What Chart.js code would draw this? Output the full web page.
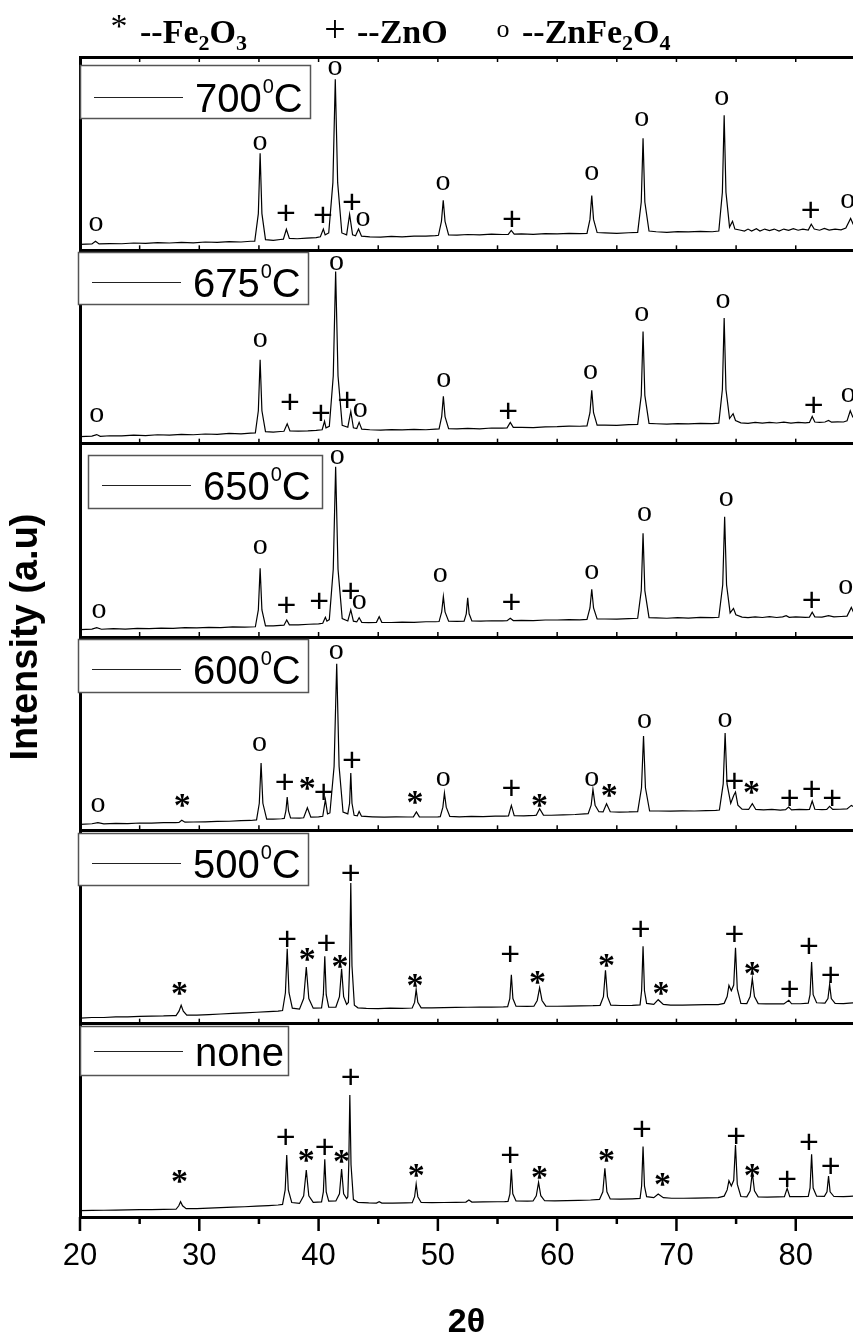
<!DOCTYPE html>
<html><head><meta charset="utf-8">
<script src="https://cdn.jsdelivr.net/npm/chart.js"></script>
<style>html,body{margin:0;padding:0;background:#fff}canvas{display:block}</style>
</head><body>
<canvas id="c" width="853" height="1341"></canvas>
<script>
// ---- data ----
const sampleLabels = ['700','675','650','600','500','none'];
const sampleIsTemp = [true,true,true,true,true,false];
const xTickValues = [20,30,40,50,60,70,80];
const xMinorTicks = [25,35,45,55,65,75,85];
const panelEdges = [0,100,200,300,400,500,600];

const s700 = [[20,3.1],[21,3.3],[21.3,4.7],[21.6,3.3],[22.5,3.5],[23.5,3.4],[24.5,3.8],[25.5,3.6],[26.5,4.0],[27.5,3.8],[28.5,4.1],[29.5,3.9],[30.5,4.3],[31.5,4.1],[32.5,4.5],[33.5,4.3],[34.3,4.7],[34.65,4.8],[34.95,19],[35.1,50.2],[35.25,19],[35.55,5.5],[36.2,5.2],[36.8,5.6],[37.05,5.8],[37.3,10.9],[37.55,6.2],[38.2,6.0],[39.0,6.3],[39.8,6.6],[40.15,7.0],[40.4,11],[40.55,8],[40.85,9],[41.2,35],[41.4,88.5],[41.6,35],[41.95,9],[42.35,8],[42.6,18.6],[42.85,8],[43.1,7.5],[43.35,11],[43.6,7.3],[44.3,7.0],[45.2,6.8],[46.1,7.2],[47.0,7.0],[48.0,7.4],[49.0,7.3],[49.8,7.6],[50.05,7.8],[50.3,15],[50.45,25.9],[50.6,15],[50.9,8],[51.6,7.9],[52.5,8.2],[53.5,8.0],[54.5,8.4],[55.4,8.2],[55.9,8.3],[56.15,10.3],[56.4,8.4],[57.0,8.5],[58.0,8.3],[59.0,8.6],[60.0,8.5],[61.0,8.8],[61.9,8.6],[62.5,8.8],[62.75,16],[62.9,28.4],[63.05,16],[63.35,9.2],[64.0,9.0],[65.0,8.8],[66.0,9.1],[66.75,9.3],[67.05,25],[67.2,58],[67.35,25],[67.7,10],[68.3,9.6],[69.2,9.3],[70.1,9.7],[71.0,9.5],[72.0,9.8],[73.0,9.6],[73.55,10],[73.85,30],[74.0,69.8],[74.15,30],[74.45,12],[74.7,15],[74.9,11],[75.3,10.5],[75.7,10],[76.0,11],[76.3,10],[76.7,11.2],[77.0,10],[77.4,11],[77.8,10.2],[78.2,11],[78.6,10],[79.0,11],[79.4,10.3],[79.8,11.2],[80.2,10.4],[80.6,11],[81.05,10.5],[81.3,13.5],[81.55,11],[82.0,10.4],[82.4,11.3],[82.8,10.5],[83.3,11],[83.8,10.6],[84.2,11.5],[84.6,16.5],[84.85,13],[85,12.5]];

const s675 = [[20,3.6],[21,3.9],[21.4,4.7],[21.7,3.8],[22.5,4.1],[23.5,4.0],[24.5,4.4],[25.5,4.2],[26.5,4.6],[27.5,4.4],[28.5,4.8],[29.5,4.6],[30.5,5.0],[31.5,4.8],[32.5,5.3],[33.5,5.1],[34.3,5.5],[34.7,5.6],[34.95,17],[35.1,43.4],[35.25,17],[35.55,6.2],[36.2,6.0],[36.8,6.3],[37.1,6.4],[37.37,10.3],[37.6,6.6],[38.3,6.5],[39.1,6.6],[39.8,6.9],[40.3,7.2],[40.5,11.6],[40.62,8.2],[40.9,9],[41.23,35],[41.43,89],[41.63,35],[41.98,9.5],[42.45,8.5],[42.7,16.7],[42.92,8.2],[43.2,7.8],[43.4,11],[43.62,7.5],[44.3,7.2],[45.2,7.0],[46.1,7.3],[47.0,7.1],[48.0,7.4],[49.0,7.2],[49.8,7.5],[50.1,7.6],[50.32,14],[50.46,24.5],[50.6,14],[50.9,7.8],[51.6,7.6],[52.5,7.9],[53.5,7.7],[54.5,8.1],[55.4,8.0],[55.8,8.2],[56.07,11],[56.32,8.4],[57.0,8.4],[58.0,8.3],[59.0,8.7],[60.0,8.8],[61.0,9.1],[61.9,9.0],[62.5,9.2],[62.75,16],[62.9,27.6],[63.05,16],[63.35,9.6],[64.0,9.6],[65.0,9.5],[66.0,9.8],[66.75,10],[67.05,25],[67.2,58],[67.35,25],[67.7,10.5],[68.3,10.3],[69.2,10.1],[70.1,10.4],[71.0,10.2],[72.0,10.5],[73.0,10.4],[73.55,10.6],[73.85,28],[74.0,65],[74.15,28],[74.45,13],[74.75,15.5],[74.95,12],[75.4,10.8],[76.0,10.5],[76.6,11],[77.2,10.6],[77.8,11],[78.4,10.7],[79.0,11.1],[79.6,10.6],[80.2,11],[80.8,10.8],[81.15,11],[81.38,14.1],[81.6,11.2],[82.0,11],[82.45,11.2],[82.75,12],[83.0,11.1],[83.5,11.3],[84.0,11.2],[84.3,11.8],[84.57,17],[84.8,13.5],[85,13]];

const s650 = [[20,3.8],[21,4.1],[21.4,4.8],[21.8,4.0],[22.8,4.3],[23.8,4.1],[24.8,4.5],[25.8,4.3],[26.8,4.6],[27.8,4.5],[28.8,4.8],[29.8,4.7],[30.8,5.0],[31.8,4.9],[32.8,5.2],[33.8,5.1],[34.7,5.3],[34.95,14],[35.1,35.5],[35.25,14],[35.55,5.8],[36.2,5.8],[36.8,6.0],[37.1,6.1],[37.33,8.8],[37.55,6.3],[38.3,6.3],[39.2,6.6],[40.0,6.8],[40.35,7.1],[40.57,10.2],[40.7,8.2],[40.9,9],[41.23,35],[41.43,88.1],[41.63,35],[41.98,9.5],[42.45,8.3],[42.7,14],[42.92,8.2],[43.2,7.8],[43.4,10],[43.62,7.6],[44.2,7.4],[44.85,7.6],[45.08,10.5],[45.3,7.6],[46.1,7.5],[47.0,7.7],[48.0,7.6],[49.0,7.9],[49.8,7.9],[50.1,8],[50.32,13],[50.46,20.9],[50.6,13],[50.9,8.2],[51.6,8.1],[52.2,8.2],[52.38,12],[52.5,20.3],[52.62,12],[52.85,8.3],[53.6,8.2],[54.5,8.4],[55.4,8.3],[55.8,8.4],[56.07,9.7],[56.32,8.5],[57.0,8.6],[58.0,8.5],[59.0,8.8],[60.0,8.8],[61.0,9.0],[61.9,8.9],[62.5,9.1],[62.75,15],[62.9,24.7],[63.05,15],[63.35,9.4],[64.0,9.3],[65.0,9.2],[66.0,9.5],[66.75,9.7],[67.05,24],[67.2,53.6],[67.35,24],[67.7,10],[68.3,9.9],[69.2,9.7],[70.1,10],[71.0,9.8],[72.0,10.1],[73.0,10],[73.55,10.2],[73.88,27],[74.04,62.2],[74.2,27],[74.5,12.5],[74.78,14.8],[74.98,11.5],[75.5,10.3],[76.0,10.0],[76.6,10.4],[77.2,10.1],[77.8,10.5],[78.4,10.1],[78.9,10.4],[79.2,11],[79.45,10.2],[80.0,10.4],[80.8,10.2],[81.15,10.3],[81.38,12.8],[81.6,10.4],[82.2,10.3],[82.75,11],[83.2,10.4],[83.8,10.6],[84.3,10.8],[84.66,15.3],[84.9,12],[85,11.8]];

const s600 = [[20,3.1],[21,3.4],[21.5,4.0],[22,3.3],[23,3.6],[24,3.5],[25,3.8],[26,3.7],[27,4.0],[28,4.0],[28.3,4.1],[28.53,5.2],[28.8,4.2],[29.5,4.3],[30.5,4.4],[31.5,4.6],[32.5,4.7],[33.5,5.0],[34.3,5.1],[34.8,5.4],[35.03,14],[35.18,34.8],[35.33,14],[35.65,5.8],[36.2,5.8],[36.9,6.0],[37.12,6.2],[37.26,10],[37.37,17.2],[37.48,10],[37.65,6.4],[38.4,6.3],[38.75,6.5],[39.06,11.7],[39.35,6.8],[40.0,7.0],[40.35,7.3],[40.57,15.9],[40.75,8.5],[40.95,9],[41.3,33],[41.52,86.2],[41.72,33],[42.05,9.5],[42.45,8.5],[42.6,14],[42.7,29.7],[42.8,14],[42.98,7.8],[43.25,7.5],[43.4,9.8],[43.6,7.3],[44.5,7.0],[45.5,6.8],[46.5,7.0],[47.5,6.9],[47.95,7.0],[48.2,9.5],[48.45,7.0],[49.2,6.9],[50.0,7.0],[50.2,7.1],[50.42,12],[50.55,19.3],[50.7,12],[51.0,7.2],[51.8,7.0],[52.8,7.2],[53.8,7.1],[54.8,7.3],[55.6,7.4],[55.92,7.5],[56.16,12.9],[56.4,7.6],[57.2,7.5],[58.1,7.7],[58.25,7.8],[58.53,11.2],[58.85,7.9],[59.5,7.8],[60.5,8.0],[61.5,8.2],[62.3,8.5],[62.6,8.6],[62.85,13],[63.0,21.2],[63.18,13],[63.5,9.6],[63.85,9.5],[64.14,13.8],[64.45,9.6],[65.2,9.4],[66.0,9.5],[66.75,9.7],[67.07,22],[67.24,48.8],[67.4,22],[67.75,10],[68.5,10.0],[69.5,9.9],[70.5,10.1],[71.5,10.0],[72.5,10.2],[73.3,10.3],[73.6,10.5],[73.92,24],[74.08,50.3],[74.24,24],[74.55,14],[74.8,18],[74.95,19.8],[75.15,13],[75.5,11],[76.05,10.8],[76.36,13.8],[76.65,10.8],[77.3,10.6],[78.0,10.8],[78.7,10.5],[79.15,10.7],[79.4,12],[79.65,10.6],[80.3,10.8],[80.9,10.7],[81.15,10.8],[81.38,15.2],[81.6,10.9],[82.2,10.7],[82.6,10.8],[82.84,12.4],[83.1,10.8],[83.7,10.9],[84.3,11.1],[84.66,12.9],[84.9,12],[85,12.2]];

const s500 = [[20,2.9],[21,3.2],[22,3.2],[23,3.5],[24,3.5],[25,3.8],[26,3.9],[27,4.0],[27.8,4.2],[28.05,4.2],[28.3,6.5],[28.48,9.5],[28.66,6.5],[28.95,4.4],[29.8,4.4],[30.8,4.7],[31.8,5.0],[32.8,5.3],[33.8,5.6],[34.8,5.9],[35.8,6.2],[36.6,6.5],[36.98,6.8],[37.22,16],[37.37,38.8],[37.52,16],[37.8,8],[38.4,7.5],[38.75,13],[38.97,29.3],[39.18,13],[39.55,8],[40.25,8.2],[40.4,15],[40.52,34.8],[40.64,15],[40.85,8.5],[41.45,8.6],[41.75,14],[41.93,28.4],[42.1,14],[42.35,10],[42.5,11],[42.6,30],[42.7,72.8],[42.8,30],[43.0,9.5],[43.3,8.2],[44.0,7.9],[45.0,7.8],[46.0,8.0],[47.0,7.9],[47.85,8.1],[48.05,11],[48.18,17.6],[48.32,11],[48.6,8.2],[49.5,8.2],[50.5,8.3],[51.5,8.4],[52.5,8.5],[53.5,8.6],[54.5,8.6],[55.5,8.7],[55.85,8.8],[56.03,13],[56.16,25.3],[56.29,13],[56.55,9],[57.5,8.9],[58.05,9.0],[58.33,12],[58.53,18.6],[58.73,12],[59.05,9.1],[60.0,9.0],[61.0,9.1],[62.0,9.2],[63.0,9.3],[63.6,9.5],[63.88,14],[64.05,27.6],[64.22,14],[64.5,9.6],[65.3,9.4],[66.3,9.5],[66.95,9.7],[67.08,17],[67.2,40],[67.32,17],[67.5,10.5],[68.1,10.0],[68.47,12.4],[68.9,10],[69.5,9.6],[70.5,9.6],[71.5,9.7],[72.5,9.8],[73.5,9.9],[74.0,10.5],[74.25,14],[74.4,19.8],[74.6,17],[74.8,20],[74.95,39.3],[75.1,18],[75.4,10.5],[75.9,10.4],[76.18,14],[76.36,23.3],[76.54,14],[76.85,10.4],[77.5,10.2],[78.3,10.3],[79.0,10.2],[79.42,12.1],[79.65,10.3],[80.4,10.3],[81.05,10.6],[81.2,15],[81.33,31.9],[81.46,15],[81.75,10.8],[82.45,10.6],[82.7,13],[82.84,20.3],[82.98,13],[83.3,10.5],[84.0,10.4],[84.5,10.6],[85,10.8]];

const sNone = [[20,3.3],[21,3.4],[22,3.5],[23,3.6],[24,3.7],[25,3.8],[26,3.8],[27,3.9],[27.9,4.0],[28.05,4.0],[28.28,5.8],[28.43,7.9],[28.6,5.8],[28.9,4.3],[29.8,4.3],[30.8,4.6],[31.8,4.8],[32.8,5.1],[33.8,5.3],[34.8,5.6],[35.8,5.9],[36.6,6.2],[36.98,6.5],[37.2,14],[37.33,32],[37.46,14],[37.75,7.5],[38.4,7.0],[38.75,11],[38.97,24.3],[39.18,11],[39.55,7.6],[40.25,7.8],[40.4,13],[40.52,29.8],[40.64,13],[40.85,8.2],[41.45,8.3],[41.75,12],[41.93,24.8],[42.1,12],[42.35,9.5],[42.45,10.5],[42.53,27],[42.62,63.1],[42.72,27],[42.92,9],[43.3,7.6],[44.2,7.3],[44.85,7.2],[45.08,7.9],[45.3,7.2],[46.2,7.2],[47.3,7.3],[47.85,7.4],[48.05,10.5],[48.18,17.1],[48.32,10.5],[48.6,7.5],[49.5,7.4],[50.5,7.5],[51.5,7.6],[52.35,7.7],[52.6,8.8],[52.85,7.7],[53.8,7.8],[55.0,7.9],[55.6,8.0],[55.88,8.1],[56.04,12],[56.16,24.7],[56.28,12],[56.55,8.3],[57.5,8.2],[57.98,8.3],[58.25,11],[58.44,17.9],[58.63,11],[58.95,8.4],[59.8,8.3],[60.8,8.5],[61.8,8.6],[62.8,8.8],[63.55,9.1],[63.83,13],[64.0,25.2],[64.17,13],[64.45,9.3],[65.3,9.2],[66.3,9.4],[66.95,9.6],[67.08,16],[67.2,36.4],[67.32,16],[67.5,10.5],[68.1,10.0],[68.47,11.9],[68.9,10.0],[69.6,9.7],[70.6,9.7],[71.6,9.8],[72.6,9.9],[73.5,10.0],[74.0,10.8],[74.25,14],[74.4,18.8],[74.6,16],[74.8,19],[74.95,37.2],[75.1,17],[75.4,10.6],[75.9,10.4],[76.18,13.5],[76.36,22.9],[76.54,13.5],[76.85,10.4],[77.6,10.3],[78.5,10.4],[79.05,10.5],[79.28,14.8],[79.5,10.5],[80.4,10.5],[81.05,10.7],[81.2,15],[81.33,32.4],[81.46,15],[81.75,10.8],[82.4,10.7],[82.62,13],[82.75,21.2],[82.88,13],[83.2,10.6],[84.0,10.5],[84.5,10.7],[85,10.8]];

// peak markers: [2theta, level, symbol]
const m700 = [[21.34,13.5,'o'],[35.08,55.4,'o'],[37.26,19.7,'+'],[40.36,18.6,'+'],[41.37,94.2,'o'],[42.79,25.4,'+'],[43.72,16,'o'],[50.42,34.7,'o'],[56.2,16.6,'+'],[62.9,39.8,'o'],[67.1,67.8,'o'],[73.8,78.6,'o'],[81.26,21.2,'+'],[84.36,25.3,'o']];
const m675 = [[21.4,14.7,'o'],[35.1,53.8,'o'],[37.6,21.9,'+'],[40.2,16.2,'+'],[41.5,93.4,'o'],[42.4,23.1,'+'],[43.5,17.6,'o'],[50.5,33.1,'o'],[55.9,17.1,'+'],[62.8,36.9,'o'],[67.1,67.2,'o'],[73.9,73.6,'o'],[81.5,20.2,'+'],[84.4,25.3,'o']];
const m650 = [[21.6,13.6,'o'],[35.1,46.7,'o'],[37.3,16.6,'+'],[40.06,18.8,'+'],[41.57,92.9,'o'],[42.7,24.3,'+'],[43.4,18.3,'o'],[50.2,32.1,'o'],[56.16,18.3,'+'],[62.9,33.8,'o'],[67.33,63.6,'o'],[74.17,71.2,'o'],[81.33,19.5,'+'],[84.2,26,'o']];
const m600 = [[21.5,12.9,'o'],[28.57,15.5,'*'],[35.05,44.5,'o'],[37.15,25.5,'+'],[39.06,24.1,'*'],[40.43,20.3,'+'],[41.48,92.2,'o'],[42.8,36.6,'+'],[48.09,17.2,'*'],[50.46,26.7,'o'],[56.16,22.1,'+'],[58.53,15.5,'*'],[62.9,26.7,'o'],[64.37,20.7,'*'],[67.33,56.6,'o'],[74.08,56.9,'o'],[74.86,25.9,'+'],[76.3,22.4,'*'],[79.5,16.9,'+'],[81.33,21.6,'+'],[83.06,16.9,'+']];
const m500 = [[28.34,18.1,'*'],[37.37,44,'+'],[39.06,35.9,'*'],[40.66,41.9,'+'],[41.8,32.4,'*'],[42.7,78.4,'+'],[48.09,22.4,'*'],[56.07,36.2,'+'],[58.35,24.1,'*'],[64.14,32.8,'*'],[67.0,49.1,'+'],[68.7,18.1,'*'],[74.86,46.6,'+'],[76.36,28.4,'*'],[79.5,18.1,'+'],[81.1,40.5,'+'],[82.93,25.3,'+']];
const mNone = [[28.34,20.9,'*'],[37.24,41.6,'+'],[38.97,31.7,'*'],[40.52,36.4,'+'],[41.93,31.2,'*'],[42.7,72.9,'+'],[48.18,24.3,'*'],[56.07,32.1,'+'],[58.53,23.1,'*'],[64.14,31.7,'*'],[67.1,45.9,'+'],[68.84,19.5,'*'],[75.0,41.9,'+'],[76.36,24,'*'],[79.28,19.7,'+'],[81.1,39,'+'],[82.93,26.6,'+']];

const phaseSymbols = ['*','+','o'];
const phaseNames = [[['--Fe',0],['2',1],['O',0],['3',1]], [['--ZnO',0]], [['--ZnFe',0],['2',1],['O',0],['4',1]]];

const series = [s700,s675,s650,s600,s500,sNone];
const markers = [m700,m675,m650,m600,m500,mNone];
const nPanels = series.length;
const panelSpan = 100;

// ---- layout / style (not data) ----
const boxLayout = [[0,8,230,53,47],[-2,2,230,52,45],[8,11,234,53,45],[-2,2,230,53,45],[-2,3,230,52,45],[0,2,208,49,40]];
const symFont = {'o':'30px "Liberation Serif"','+':'34px "Liberation Sans"','*':'bold 34px "Liberation Serif"'};
const phaseLayout = [[119,21,140],[335,29,357],[503,31,522]];
const phaseSymFont = {'*':'34px "Liberation Serif"','+':'38px "Liberation Serif"','o':'26px "Liberation Serif"'};

const datasets = series.map((s,i)=>({
  label: sampleLabels[i],
  data: s.map(p=>({x:p[0], y:(nPanels-1-i)*panelSpan + p[1]})),
  showLine:true, pointRadius:0, borderColor:'#000', borderWidth:1.2, tension:0, fill:false
}));

function drawCentered(ctx, sym, cx, cy){
  ctx.textAlign='center'; ctx.textBaseline='alphabetic';
  const m = ctx.measureText(sym);
  ctx.fillText(sym, cx, cy + (m.actualBoundingBoxAscent - m.actualBoundingBoxDescent)/2);
}

const deco = {
  id:'deco',
  afterDatasetsDraw(chart){
    const {ctx, chartArea:ca, scales:{x:xs, y:ys}} = chart;
    ctx.save();
    ctx.fillStyle = '#000';
    markers.forEach((list,i)=>{
      list.forEach(([x,v,sym])=>{
        ctx.font = symFont[sym];
        drawCentered(ctx, sym, xs.getPixelForValue(x), ys.getPixelForValue((nPanels-1-i)*panelSpan + v));
      });
    });
    sampleLabels.forEach((lab,i)=>{
      const top = ys.getPixelForValue((nPanels-i)*panelSpan);
      const [dx,dy,w,h,bl] = boxLayout[i];
      const L = Math.round(ca.left+dx), T = Math.round(top+dy), by = T+bl;
      ctx.fillStyle='#fff'; ctx.fillRect(L,T,w,h);
      ctx.strokeStyle='#555'; ctx.lineWidth=1.5; ctx.strokeRect(L+0.5,T+0.5,w,h);
      ctx.strokeStyle='#222'; ctx.lineWidth=1;
      ctx.beginPath(); ctx.moveTo(L+14, by-14.5); ctx.lineTo(L+103, by-14.5); ctx.stroke();
      ctx.fillStyle='#000'; ctx.textAlign='left'; ctx.textBaseline='alphabetic';
      ctx.font='40px "Liberation Sans"';
      let tx = L+115;
      ctx.fillText(lab, tx, by); tx += ctx.measureText(lab).width;
      if (sampleIsTemp[i]) {
        ctx.font='20px "Liberation Sans"';
        ctx.fillText('0', tx+1, by-19); tx += ctx.measureText('0').width+1;
        ctx.font='40px "Liberation Sans"';
        ctx.fillText('C', tx, by);
      }
    });
    ctx.restore();
  },
  afterDraw(chart){
    const {ctx, chartArea:ca, scales:{x:xs, y:ys}} = chart;
    ctx.save();
    ctx.strokeStyle='#000'; ctx.lineCap='butt';
    const inRange = v => v>=xs.min-1e-9 && v<=xs.max+1e-9;
    ctx.lineWidth=2.5;
    xTickValues.filter(inRange).forEach(v=>{const p=xs.getPixelForValue(v); ctx.beginPath(); ctx.moveTo(p,ca.bottom); ctx.lineTo(p,ca.bottom+14); ctx.stroke();});
    xMinorTicks.filter(inRange).forEach(v=>{const p=xs.getPixelForValue(v); ctx.beginPath(); ctx.moveTo(p,ca.bottom); ctx.lineTo(p,ca.bottom+7); ctx.stroke();});
    ctx.lineWidth=1.5;
    const all = xTickValues.concat(xMinorTicks).filter(inRange);
    panelEdges.slice(1).forEach(e=>{
      const py = ys.getPixelForValue(e);
      const dir = (e===panelEdges[panelEdges.length-1]) ? 1 : -1;
      all.forEach(v=>{const p=xs.getPixelForValue(v); ctx.beginPath(); ctx.moveTo(p,py); ctx.lineTo(p,py+dir*5); ctx.stroke();});
    });
    ctx.fillStyle='#000';
    phaseSymbols.forEach((sym,k)=>{
      const [sx,sy,tx0] = phaseLayout[k];
      ctx.font = phaseSymFont[sym];
      drawCentered(ctx, sym, sx, sy);
      ctx.textAlign='left'; ctx.textBaseline='alphabetic';
      let tx = tx0;
      phaseNames[k].forEach(([t,sub])=>{
        ctx.font = sub ? 'bold 22px "Liberation Serif"' : 'bold 34px "Liberation Serif"';
        ctx.fillText(t, tx, sub?50:43);
        tx += ctx.measureText(t).width;
      });
    });
    ctx.restore();
  }
};

new Chart(document.getElementById('c'), {
  type:'scatter',
  data:{datasets},
  options:{
    responsive:false, animation:false, devicePixelRatio:1,
    layout:{padding:{top:57,right:0,bottom:0,left:0}},
    plugins:{legend:{display:false}, tooltip:{enabled:false}},
    scales:{
      x:{type:'linear', min:20, max:84.8,
        afterBuildTicks:s=>{s.ticks = xTickValues.map(v=>({value:v}));},
        afterFit:s=>{s.height=124;},
        grid:{display:false, drawTicks:false},
        border:{display:true, color:'#000', width:3},
        ticks:{color:'#000', font:{family:'Liberation Sans', size:31}, padding:21, maxRotation:0, autoSkip:false},
        title:{display:true, text:'2θ', color:'#000', font:{family:'Liberation Sans', size:34, weight:'bold', lineHeight:1}, padding:{top:0,bottom:1}}
      },
      y:{type:'linear', min:0, max:600,
        afterBuildTicks:s=>{s.ticks = panelEdges.map(v=>({value:v}));},
        afterFit:s=>{s.width=80;},
        ticks:{display:false},
        grid:{display:true, color:'#000', lineWidth:3, drawTicks:false},
        border:{display:true, color:'#000', width:3},
        title:{display:true, text:'Intensity (a.u)', color:'#000', font:{family:'Liberation Sans', size:38, weight:'bold', lineHeight:1}, padding:{top:8,bottom:0}}
      }
    }
  },
  plugins:[deco]
});
</script>
</body></html>
